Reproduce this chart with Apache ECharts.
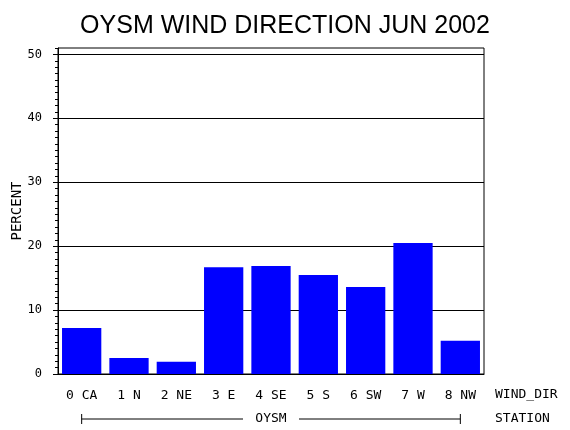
<!DOCTYPE html>
<html>
<head>
<meta charset="utf-8">
<script src="https://cdn.jsdelivr.net/npm/echarts@6/dist/echarts.min.js"></script>
<style>
html,body{margin:0;padding:0;background:#fff;}
#c{width:570px;height:430px;}
</style>
</head>
<body>
<div id="c"></div>
<script>
var titleText = 'OYSM WIND DIRECTION JUN 2002';
var categories = ['0 CA', '1 N', '2 NE', '3 E', '4 SE', '5 S', '6 SW', '7 W', '8 NW'];
var percentValues = [7.2, 2.5, 1.9, 16.7, 16.9, 15.5, 13.6, 20.5, 5.2];
var yMajorTicks = [0, 10, 20, 30, 40, 50];
var xAxisTitle = 'WIND_DIR';
var stationAxisTitle = 'STATION';
var stationName = 'OYSM';
var yAxisTitle = 'PERCENT';

var mono = 'DejaVu Sans Mono';
var chart = echarts.init(document.getElementById('c'), null, {renderer: 'canvas'});

var L = 58, R = 86, T = 48, B = 56;
var plotH = 430 - T - B;
var yMaxOuter = 51, yMaxMajor = yMajorTicks[yMajorTicks.length - 1];
var topMajor = T + plotH * (yMaxOuter - yMaxMajor) / yMaxOuter;

chart.setOption({
  animation: false,
  backgroundColor: '#fff',
  title: {
    text: titleText,
    left: 'center',
    top: 9,
    textStyle: {fontFamily: 'Liberation Sans', fontSize: 25, fontWeight: 'normal', color: '#000'}
  },
  grid: [
    {left: L, right: R, top: T, bottom: B, show: true, borderColor: '#000', borderWidth: 1, backgroundColor: 'transparent'},
    {left: L, right: R, top: topMajor, bottom: B, show: false}
  ],
  xAxis: [
    {
      type: 'category', gridIndex: 0, data: categories,
      axisLine: {show: true, lineStyle: {color: '#000', width: 1}},
      axisTick: {show: false},
      axisLabel: {color: '#000', fontFamily: mono, fontSize: 13, margin: 15, interval: 0}
    },
    {
      type: 'category', gridIndex: 1, data: categories, show: false
    }
  ],
  yAxis: [
    {
      type: 'value', gridIndex: 0, min: 0, max: yMaxOuter, interval: 1,
      name: yAxisTitle, nameLocation: 'middle', nameGap: 34, nameRotate: 90,
      nameTextStyle: {color: '#000', fontFamily: mono, fontSize: 14},
      axisLine: {show: true, lineStyle: {color: '#000', width: 1}},
      axisTick: {show: true, length: 3, lineStyle: {color: '#000'}},
      axisLabel: {show: false},
      splitLine: {show: false}
    },
    {
      type: 'value', gridIndex: 1, min: 0, max: yMaxMajor, interval: 10,
      axisLine: {show: false},
      axisTick: {show: true, length: 5, lineStyle: {color: '#000'}},
      axisLabel: {color: '#000', fontFamily: mono, fontSize: 12, margin: 16},
      splitLine: {show: true, lineStyle: {color: '#000', width: 1}}
    }
  ],
  series: [{
    type: 'bar',
    xAxisIndex: 0, yAxisIndex: 0,
    data: percentValues,
    barCategoryGap: '17%',
    itemStyle: {color: '#0000ff'},
    z: 5
  }]
});

var x0 = chart.convertToPixel({xAxisIndex: 0}, categories[0]);
var x1 = chart.convertToPixel({xAxisIndex: 0}, categories[categories.length - 1]);
var xm = (x0 + x1) / 2;
var yb = 419;
var gapHalf = 28;
var rightX = 570 - R + 11;

chart.setOption({
  graphic: [
    {type: 'line', shape: {x1: x0, y1: yb, x2: xm - gapHalf, y2: yb}, style: {stroke: '#000', lineWidth: 1}},
    {type: 'line', shape: {x1: xm + gapHalf, y1: yb, x2: x1, y2: yb}, style: {stroke: '#000', lineWidth: 1}},
    {type: 'line', shape: {x1: x0, y1: yb - 5, x2: x0, y2: yb + 5}, style: {stroke: '#000', lineWidth: 1}},
    {type: 'line', shape: {x1: x1, y1: yb - 5, x2: x1, y2: yb + 5}, style: {stroke: '#000', lineWidth: 1}},
    {type: 'text', x: xm, y: yb, style: {text: stationName, fill: '#000', font: '13px "DejaVu Sans Mono"', textAlign: 'center', textVerticalAlign: 'middle'}},
    {type: 'text', x: rightX, y: 395, style: {text: xAxisTitle, fill: '#000', font: '13px "DejaVu Sans Mono"', textAlign: 'left', textVerticalAlign: 'middle'}},
    {type: 'text', x: rightX, y: yb, style: {text: stationAxisTitle, fill: '#000', font: '13px "DejaVu Sans Mono"', textAlign: 'left', textVerticalAlign: 'middle'}}
  ]
});
</script>
</body>
</html>
